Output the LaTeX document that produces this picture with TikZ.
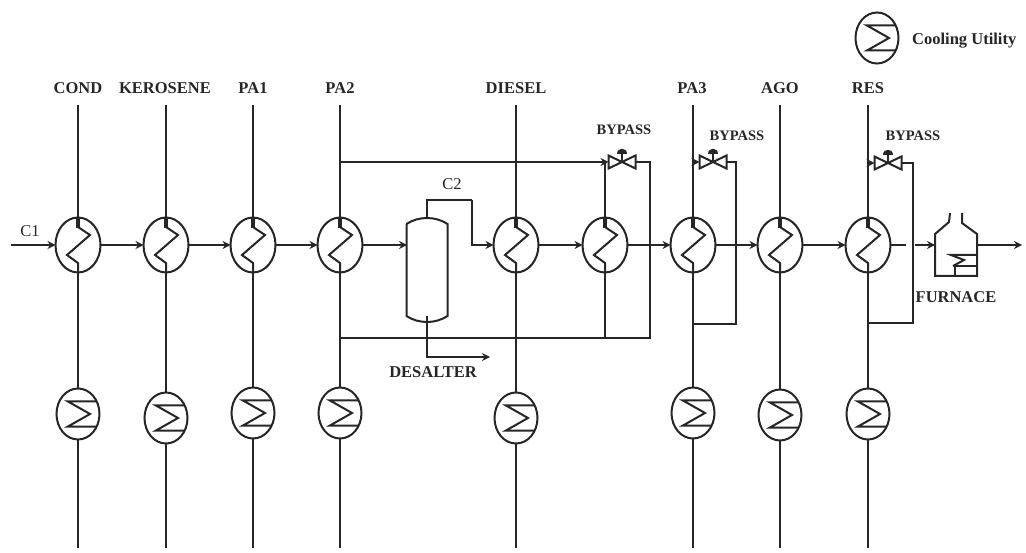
\documentclass[tikz,border=0pt]{standalone}
\usepackage{fontspec}
\setmainfont{Liberation Serif}
\usepackage{tikz}
\usetikzlibrary{arrows.meta, positioning, shapes.geometric, calc}

\newcommand{\bypassvalve}[2]{
  \node[valvebody] (#1) at (#2) {};
  \draw[hot, fill=white] (#1.south west) -- (#1.north east) -- (#1.south east) -- (#1.north west) -- cycle;
  \draw[hot] (#1.center) -- ++(0,-9);
  \fill[pipe] (#1.center) ++(-5,-8) -- ++(10,0) .. controls +(0,-7) and +(0,-7) .. ++(-10,0) -- cycle;
}

\begin{document}
\begin{tikzpicture}[
  x=1pt, y=-1pt,
  pipe/.style={black!85},
  hot/.style={pipe, line width=2pt},
  flow/.style={hot, -{Stealth[length=8pt, width=8pt]}},
  tag/.style={inner sep=0pt, text=black!85, font=\fontsize{16.5}{17}\selectfont\bfseries},
  smalltag/.style={inner sep=0pt, text=black!85, font=\fontsize{14.5}{15}\selectfont\bfseries},
  plaintag/.style={inner sep=0pt, text=black!85, font=\fontsize{16.5}{17}\selectfont},
  valvebody/.style={inner sep=0pt, outer sep=0pt, minimum width=27pt, minimum height=13pt},
  exch/.style={ellipse, draw=black!85, line width=2pt, inner sep=0pt, outer sep=0pt, minimum width=45pt, minimum height=55pt,
    path picture={\draw[hot, shift={(path picture bounding box.center)}] (0,-18) -- (12,-10) -- (-11,10) -- (0,18) -- (0,28);
      \draw[pipe, line width=3.5pt, shift={(path picture bounding box.center)}] (0,-28) -- (0,-17);}},
  cooler/.style={ellipse, draw=black!85, line width=2pt, inner sep=0pt, outer sep=0pt, minimum width=43pt, minimum height=51pt,
    path picture={\draw[hot, shift={(path picture bounding box.center)}] (22,-12.5) -- (-10,-12.5) -- (12,0) -- (-10,12.5) -- (22,12.5);}},
]
\useasboundingbox (0,0) rectangle (1026,553);

% Exchangers
\node[exch] (cond) at (78,245) {};
\node[exch] (kero) at (166,245) {};
\node[exch] (paone) at (253,245) {};
\node[exch] (patwo) at (340,245) {};
\node[exch] (diesel) at (516,245) {};
\node[exch] (bypone) at (605,245) {};
\node[exch] (pathree) at (693,245) {};
\node[exch] (ago) at (780,245) {};
\node[exch] (res) at (868,245) {};

% Coolers
\node[cooler] (ccond) at (78,414) {};
\node[cooler] (ckero) at (166,418) {};
\node[cooler] (cpaone) at (253,413) {};
\node[cooler] (cpatwo) at (340,413) {};
\node[cooler] (cdiesel) at (516,418) {};
\node[cooler] (cpathree) at (693,413) {};
\node[cooler] (cago) at (780,415) {};
\node[cooler] (cres) at (868,414) {};
\node[cooler] (legend) at (877,38) {};

% Labels
\node[tag] (lcond) at (78,88) {COND};
\node[tag] (lkero) at (165,88) {KEROSENE};
\node[tag] (lpaone) at (253,88) {PA1};
\node[tag] (lpatwo) at (340,88) {PA2};
\node[tag] (ldiesel) at (516,88) {DIESEL};
\node[tag] (lpathree) at (692,88) {PA3};
\node[tag] (lago) at (780,88) {AGO};
\node[tag] (lres) at (868,88) {RES};
\node[tag, anchor=west] (llegend) at (912,41) {Cooling Utility};
\node[plaintag] (lcone) at (30,231) {C1};
\node[plaintag] (lctwo) at (452,184) {C2};
\node[tag] (ldesalter) at (433,372) {DESALTER};
\node[tag] (lfurnace) at (956,297) {FURNACE};
\node[smalltag] (lbypone) at (624,130) {BYPASS};
\node[smalltag] (lbyptwo) at (737,136) {BYPASS};
\node[smalltag] (lbypthree) at (913,136) {BYPASS};

% Free ends
\coordinate (start) at (11,245);
\coordinate (tcond) at (78,105);
\coordinate (tkero) at (166,105);
\coordinate (tpaone) at (253,105);
\coordinate (tpatwo) at (340,105);
\coordinate (tdiesel) at (516,105);
\coordinate (tpathree) at (693,105);
\coordinate (tago) at (780,105);
\coordinate (tres) at (868,105);
\coordinate (econd) at (78,548);
\coordinate (ekero) at (166,548);
\coordinate (epaone) at (253,548);
\coordinate (epatwo) at (340,548);
\coordinate (ediesel) at (516,548);
\coordinate (epathree) at (693,548);
\coordinate (eago) at (780,548);
\coordinate (eres) at (868,548);
\coordinate (jtop) at (340,162);
\coordinate (jmid) at (605,162);
\coordinate (jlow) at (605,338);
\coordinate (jbot) at (340,338);
\coordinate (jthreetop) at (693,162);
\coordinate (jthreebot) at (693,324);
\coordinate (jrestop) at (868,163);
\coordinate (jresbot) at (868,323);
\coordinate (gapleft) at (906,245);
\coordinate (gapright) at (915,245);
\coordinate (furnin) at (935,245);
\coordinate (furnout) at (977,245);
\coordinate (outlet) at (1022,245);

% Desalter
\node[inner sep=0pt, outer sep=0pt, minimum width=41pt, minimum height=92pt] (desalter) at (427,270) {};
\coordinate (destop) at (427,219);
\coordinate (desbot) at (427,322);
\coordinate (desin) at (407,245);
\coordinate (desout) at (490,357);
\coordinate (ctwotop) at (472,200);
\draw[hot] (desalter.north west) -- (desalter.south west) .. controls +(12,8) and +(-12,8) .. (desalter.south east) -- (desalter.north east) .. controls +(-12,-8) and +(12,-8) .. (desalter.north west);

% Furnace
\draw[hot] (950,213) -- (949,222) -- (935,234) -- (935,276) -- (977,276) -- (977,234) -- (962,223) -- (962,213);
\draw[hot] (955,276) -- (955,266) -- (977,266);
\draw[hot] (977,255) -- (951,255) -- (964,260) -- (953,266);

% Valves
\bypassvalve{vone}{622,162}
\bypassvalve{vtwo}{713,162}
\bypassvalve{vthree}{888,163}

% Process line
\draw[flow] (start) -- (cond);
\draw[flow] (cond) -- (kero);
\draw[flow] (kero) -- (paone);
\draw[flow] (paone) -- (patwo);
\draw[flow] (patwo) -- (desin);
\draw[hot] (destop) |- (ctwotop);
\draw[flow] (ctwotop) |- (diesel.west);
\draw[hot] (desalter.south) -- (desbot);
\draw[flow] (desbot) |- (desout);
\draw[flow] (diesel) -- (bypone);
\draw[flow] (bypone) -- (pathree);
\draw[flow] (pathree) -- (ago);
\draw[flow] (ago) -- (res);
\draw[hot] (res) -- (gapleft);
\draw[flow] (gapright) -- (furnin);
\draw[flow] (furnout) -- (outlet);

% Hot streams
\draw[hot] (tcond) -- (cond);
\draw[hot] (cond) -- (ccond);
\draw[hot] (ccond) -- (econd);
\draw[hot] (tkero) -- (kero);
\draw[hot] (kero) -- (ckero);
\draw[hot] (ckero) -- (ekero);
\draw[hot] (tpaone) -- (paone);
\draw[hot] (paone) -- (cpaone);
\draw[hot] (cpaone) -- (epaone);
\draw[hot] (tpatwo) -- (patwo);
\draw[hot] (patwo) -- (cpatwo);
\draw[hot] (cpatwo) -- (epatwo);
\draw[hot] (tdiesel) -- (diesel);
\draw[hot] (diesel) -- (cdiesel);
\draw[hot] (cdiesel) -- (ediesel);
\draw[hot] (tpathree) -- (pathree);
\draw[hot] (pathree) -- (cpathree);
\draw[hot] (cpathree) -- (epathree);
\draw[hot] (tago) -- (ago);
\draw[hot] (ago) -- (cago);
\draw[hot] (cago) -- (eago);
\draw[hot] (tres) -- (res);
\draw[hot] (res) -- (cres);
\draw[hot] (cres) -- (eres);

% Bypasses
\draw[flow] (jtop) -- (vone.west);
\draw[hot] (jmid) -- (bypone);
\draw[hot] (bypone) -- (jlow);
\draw[hot] (vone.east) -- ++(14,0) |- (jbot);
\draw[flow] (jthreetop) -- (vtwo.west);
\draw[hot] (vtwo.east) -- ++(9,0) |- (jthreebot);
\draw[flow] (jrestop) -- (vthree.west);
\draw[hot] (vthree.east) -- ++(11,0) |- (jresbot);
\end{tikzpicture}
\end{document}
